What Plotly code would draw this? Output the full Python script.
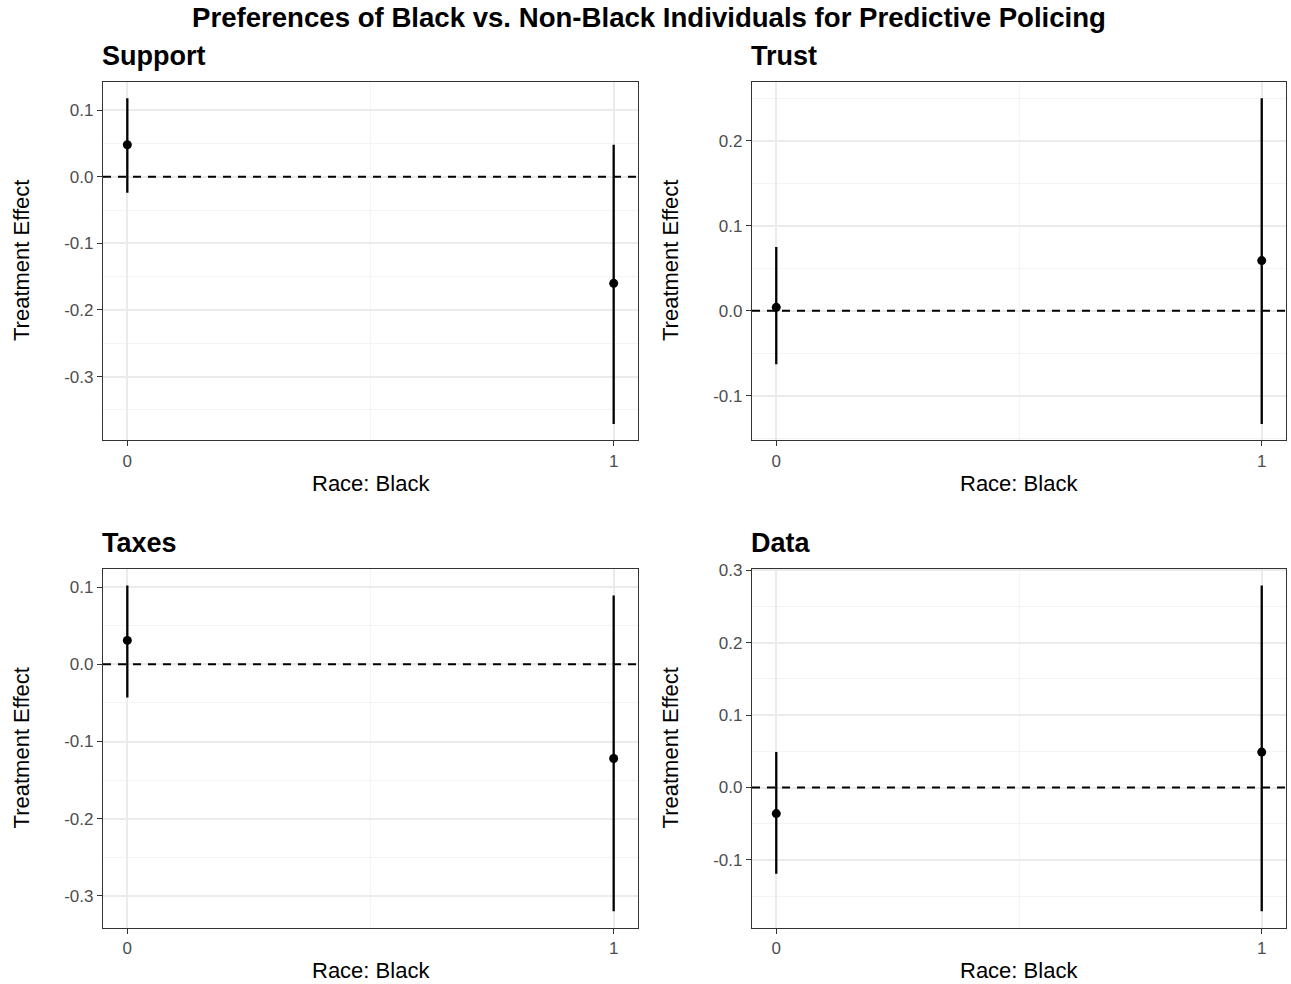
import plotly.graph_objects as go

# ---- data ----
panels = ["Support", "Trust", "Taxes", "Data"]
race = [0, 1]
est_support = [0.048, -0.160]
lo_support = [-0.024, -0.371]
hi_support = [0.118, 0.048]

est_trust = [0.004, 0.059]
lo_trust = [-0.063, -0.133]
hi_trust = [0.075, 0.250]

est_taxes = [0.031, -0.122]
lo_taxes = [-0.043, -0.320]
hi_taxes = [0.102, 0.089]

est_data = [-0.036, 0.049]
lo_data = [-0.119, -0.171]
hi_data = [0.049, 0.279]

yticks_support = [-0.3, -0.2, -0.1, 0.0, 0.1]
yticks_trust = [-0.1, 0.0, 0.1, 0.2]
yticks_taxes = [-0.3, -0.2, -0.1, 0.0, 0.1]
yticks_data = [-0.1, 0.0, 0.1, 0.2, 0.3]
xticks = [0, 1]
xtick_labels = ["0", "1"]

series = [
    (est_support, lo_support, hi_support, yticks_support),
    (est_trust, lo_trust, hi_trust, yticks_trust),
    (est_taxes, lo_taxes, hi_taxes, yticks_taxes),
    (est_data, lo_data, hi_data, yticks_data),
]

W, H = 1291, 984
FONT = "Liberation Sans, Arial, sans-serif"


def py(y):
    # pixel row (from top) -> paper fraction, with empirical render correction
    return 1 - ((y - 8.2) / 0.991) / H


xdoms = [[103 / W, 638 / W], [752 / W, 1286 / W]]
rows_px = [(82, 440), (569, 927)]
ydoms = [[py(b), py(t)] for t, b in rows_px]

fig = go.Figure()
layout = dict(
    width=W, height=H,
    margin=dict(l=0, r=0, t=0, b=0),
    paper_bgcolor="white", plot_bgcolor="white",
    showlegend=False,
    font=dict(family=FONT, color="#4d4d4d"),
)
annotations = []
shapes = []

for i, (name, (est, lo, hi, yt)) in enumerate(zip(panels, series)):
    r, c = divmod(i, 2)
    n = i + 1
    xa = "x" if n == 1 else f"x{n}"
    ya = "y" if n == 1 else f"y{n}"
    fig.add_trace(go.Scatter(
        x=race, y=est, xaxis=xa, yaxis=ya, mode="markers",
        marker=dict(color="black", size=9),
        error_y=dict(type="data", symmetric=False,
                     array=[h - e for h, e in zip(hi, est)],
                     arrayminus=[e - l for e, l in zip(est, lo)],
                     color="black", thickness=2.3, width=0),
    ))
    ymin, ymax = min(lo), max(hi)
    pad = (ymax - ymin) * 0.05
    axis_common = dict(
        showline=True, mirror=True, linecolor="#333333", linewidth=1.3,
        ticks="outside", ticklen=5, tickwidth=1.3, tickcolor="#333333",
        tickfont=dict(size=17, color="#4d4d4d", family=FONT),
        showgrid=True, gridcolor="#ebebeb", gridwidth=1.6, zeroline=False,
    )
    layout["xaxis" if n == 1 else f"xaxis{n}"] = dict(
        axis_common, domain=xdoms[c], anchor=ya, range=[-0.05, 1.05],
        tickmode="array", tickvals=xticks, ticktext=xtick_labels,
        minor=dict(showgrid=True, gridcolor="#f4f4f4", gridwidth=1,
                   tickmode="array", tickvals=[0.5], ticklen=0),
    )
    layout["yaxis" if n == 1 else f"yaxis{n}"] = dict(
        axis_common, domain=ydoms[r], anchor=xa, range=[ymin - pad, ymax + pad],
        tickmode="array", tickvals=yt, ticktext=[f"{v:.1f}" for v in yt],
        minor=dict(showgrid=True, gridcolor="#f4f4f4", gridwidth=1,
                   tickmode="array",
                   tickvals=[round(v + 0.05, 3) for v in [yt[0] - 0.1] + yt],
                   ticklen=0),
    )
    shapes.append(dict(type="line", xref=f"{xa} domain", yref=ya,
                       x0=0, x1=1, y0=0, y1=0,
                       line=dict(color="black", width=1.9, dash="8px,7px"), layer="above"))
    top_px, bot_px = rows_px[r]
    # panel title
    annotations.append(dict(text=f"<b>{name}</b>", xref="paper", yref="paper",
                            x=xdoms[c][0], xshift=-3, y=py(top_px - 26), xanchor="left", yanchor="middle",
                            showarrow=False, font=dict(size=27, color="black", family=FONT)))
    # x title
    annotations.append(dict(text="Race: Black", xref="paper", yref="paper",
                            x=(xdoms[c][0] + xdoms[c][1]) / 2, y=py(bot_px + 43),
                            xanchor="center", yanchor="middle", showarrow=False,
                            font=dict(size=22, color="black", family=FONT)))
    # y title
    annotations.append(dict(text="Treatment Effect", xref="paper", yref="paper",
                            x=xdoms[c][0] - 82 / W, y=py((top_px + bot_px) / 2),
                            xanchor="center", yanchor="middle", textangle=-90, showarrow=False,
                            font=dict(size=22, color="black", family=FONT)))

annotations.append(dict(text="<b>Preferences of Black vs. Non-Black Individuals for Predictive Policing</b>",
                        xref="paper", yref="paper", x=649 / W, y=py(18),
                        xanchor="center", yanchor="middle", showarrow=False,
                        font=dict(size=27.6, color="black", family=FONT)))

layout["annotations"] = annotations
layout["shapes"] = shapes
fig.update_layout(**layout)
fig.write_html("out.html")
